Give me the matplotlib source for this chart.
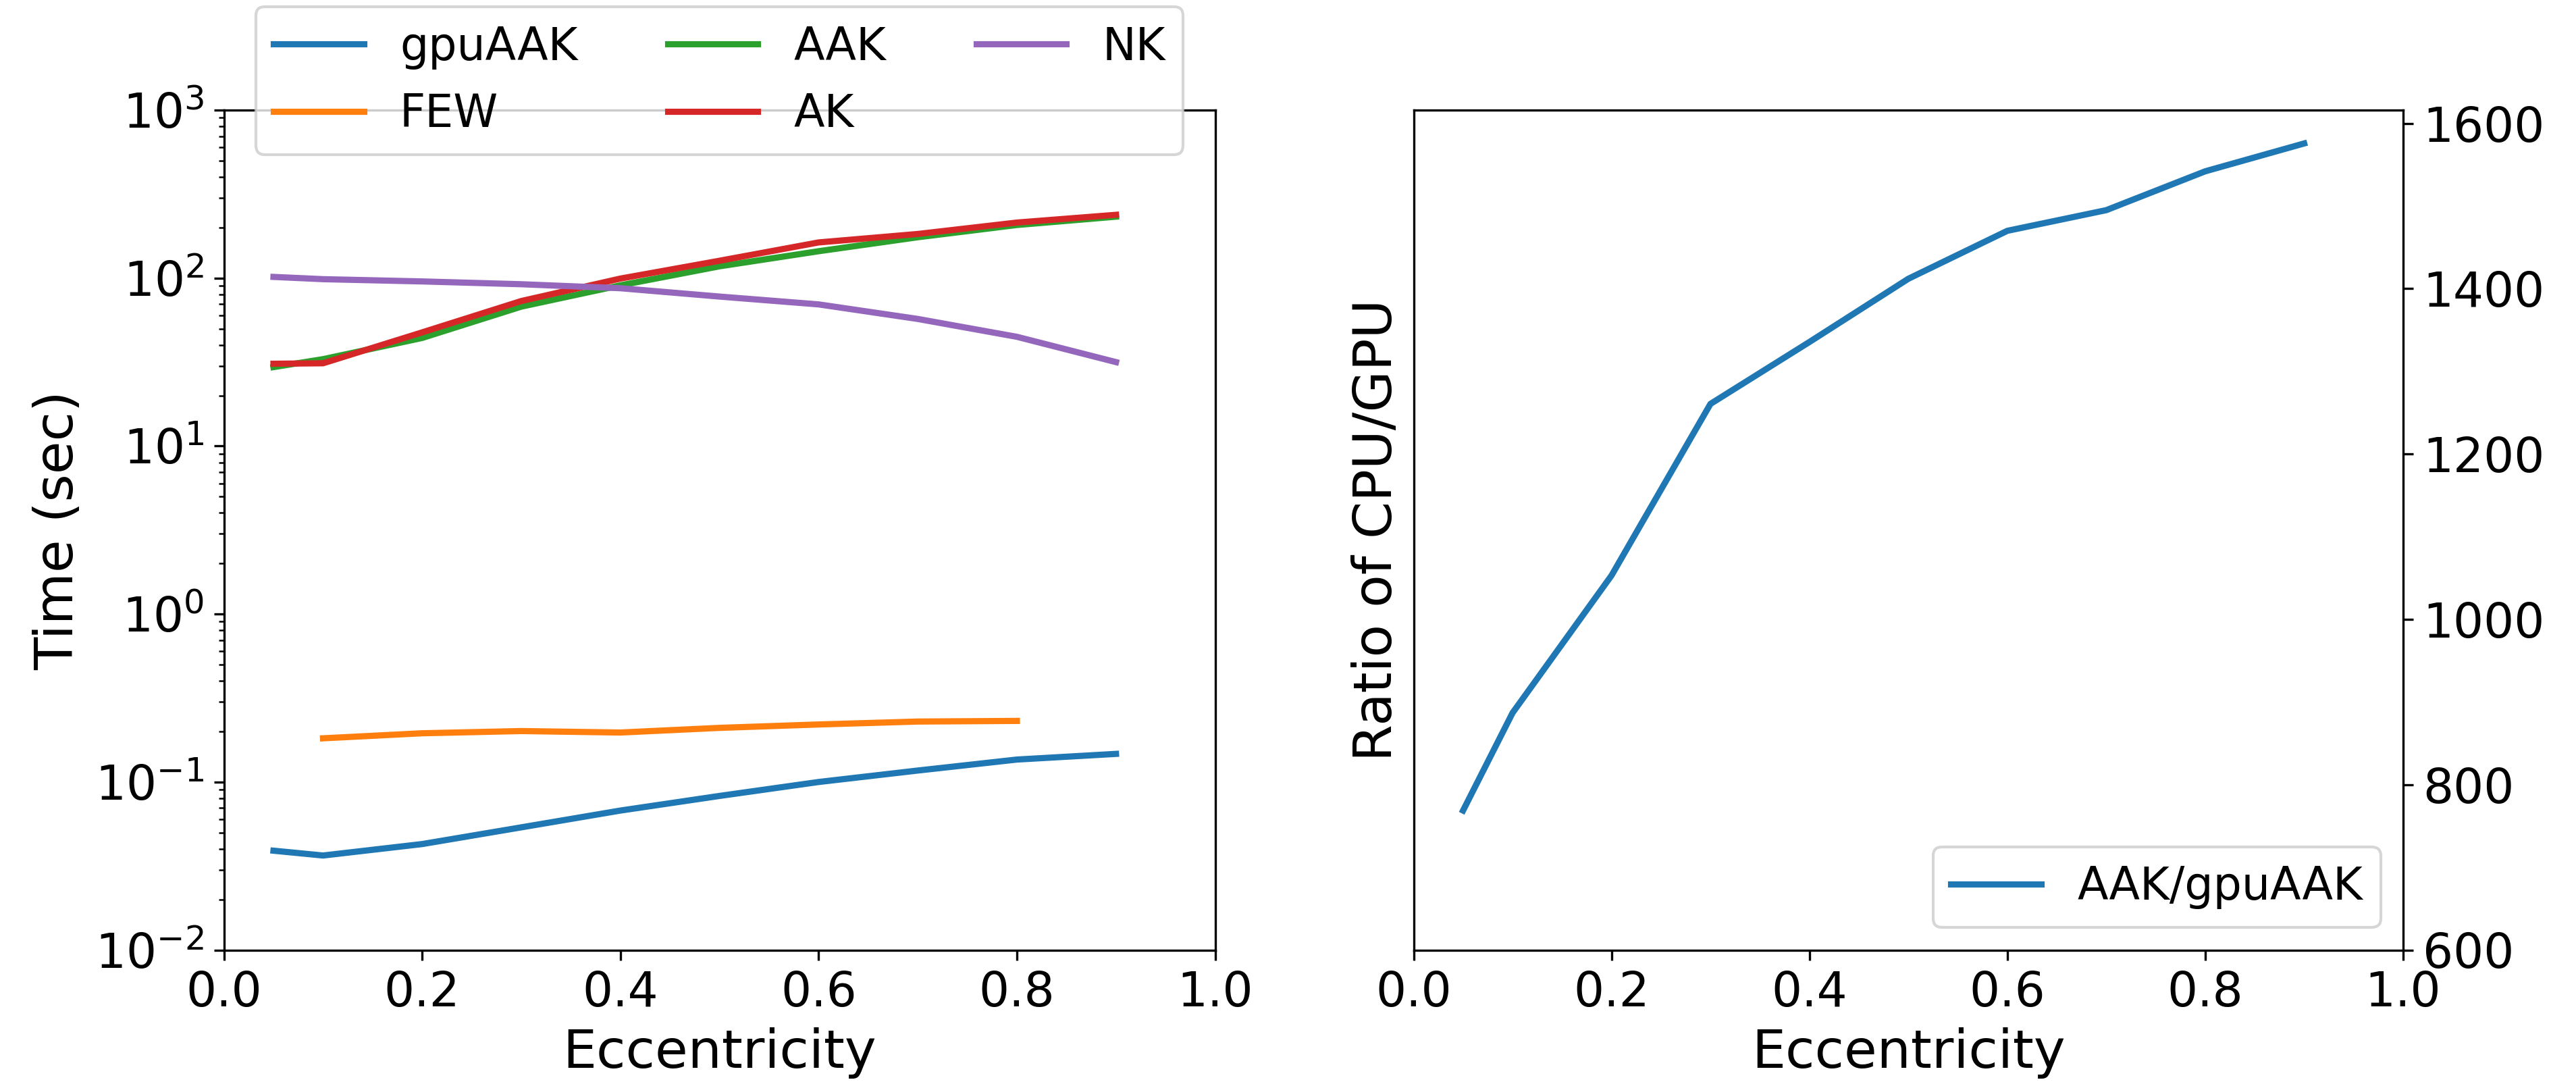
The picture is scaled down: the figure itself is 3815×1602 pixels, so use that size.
"""
Timing comparison of waveform models vs eccentricity, plus CPU/GPU speed-up ratio
"""
import numpy
from matplotlib import pyplot as plt

# Eccentricity grid
ecc = [0.05, 0.1, 0.2, 0.3, 0.4, 0.5, 0.6, 0.7, 0.8, 0.9]
ecc_few = [0.1, 0.2, 0.3, 0.4, 0.5, 0.6, 0.7, 0.8]

# Timings (sec)
time_gpuaak = [0.039, 0.0365, 0.0427, 0.0537, 0.0676, 0.0826, 0.100, 0.117, 0.136, 0.147]
time_few = [0.182, 0.195, 0.201, 0.197, 0.210, 0.220, 0.229, 0.231]
time_aak = [29.5, 32.9, 44.0, 67.6, 90.5, 117.5, 144.5, 175.0, 207.0, 232.0]
time_ak = [30.9, 31.1, 47.5, 73.0, 99.3, 126.8, 163.0, 183.0, 214.0, 238.0]
time_nk = [101.6, 98.5, 95.5, 91.9, 87.0, 77.6, 69.7, 57.1, 44.7, 31.6]

# Ratio AAK / gpuAAK
ratio = [768.7, 886.8, 1053.0, 1260.6, 1335.5, 1412.0, 1470.0, 1495.0, 1542.0, 1575.7]

TICK_SIZE = 17
LABEL_SIZE = 19
LEGEND_SIZE = 16
LINE_WIDTH = 2.2

W, H = 3815, 1602
DPI = 300
fig = plt.figure(figsize=(W / DPI, H / DPI), dpi=DPI)

ax_time = fig.add_axes([331.6 / W, 1 - 1406.5 / H, (1799.6 - 331.6) / W, (1406.5 - 163) / H])
ax_ratio = fig.add_axes([2093.5 / W, 1 - 1406.5 / H, (3559 - 2093.5) / W, (1406.5 - 163) / H])

# Left panel: timings on a log scale
ax_time.plot(ecc, time_gpuaak, color="C0", lw=LINE_WIDTH, label="gpuAAK")
ax_time.plot(ecc_few, time_few, color="C1", lw=LINE_WIDTH, label="FEW")
ax_time.plot(ecc, time_aak, color="C2", lw=LINE_WIDTH, label="AAK")
ax_time.plot(ecc, time_ak, color="C3", lw=LINE_WIDTH, label="AK")
ax_time.plot(ecc, time_nk, color="C4", lw=LINE_WIDTH, label="NK")
ax_time.set_yscale("log")
ax_time.set_ylim(1e-2, 1e3)
ax_time.set_xlim(0, 1)
ax_time.set_xlabel("Eccentricity", fontsize=LABEL_SIZE)
ax_time.set_ylabel("Time (sec)", fontsize=LABEL_SIZE)
ax_time.tick_params(labelsize=TICK_SIZE)
ax_time.legend(
    ncol=3, fontsize=LEGEND_SIZE, loc="upper center",
    bbox_to_anchor=(1065.5 / W, 1 - 10 / H), bbox_transform=fig.transFigure,
    borderaxespad=0,
)

# Right panel: speed-up ratio, ticks on the right
ax_ratio.plot(ecc, ratio, color="C0", lw=LINE_WIDTH, label="AAK/gpuAAK")
ax_ratio.set_xlim(0, 1)
ax_ratio.set_ylim(bottom=600)
ax_ratio.yaxis.tick_right()
ax_ratio.set_xlabel("Eccentricity", fontsize=LABEL_SIZE)
ax_ratio.set_ylabel("Ratio of CPU/GPU", fontsize=LABEL_SIZE)
ax_ratio.tick_params(labelsize=TICK_SIZE)
ax_ratio.legend(fontsize=LEGEND_SIZE, loc="lower right")

fig.savefig("out.png", dpi=DPI)
